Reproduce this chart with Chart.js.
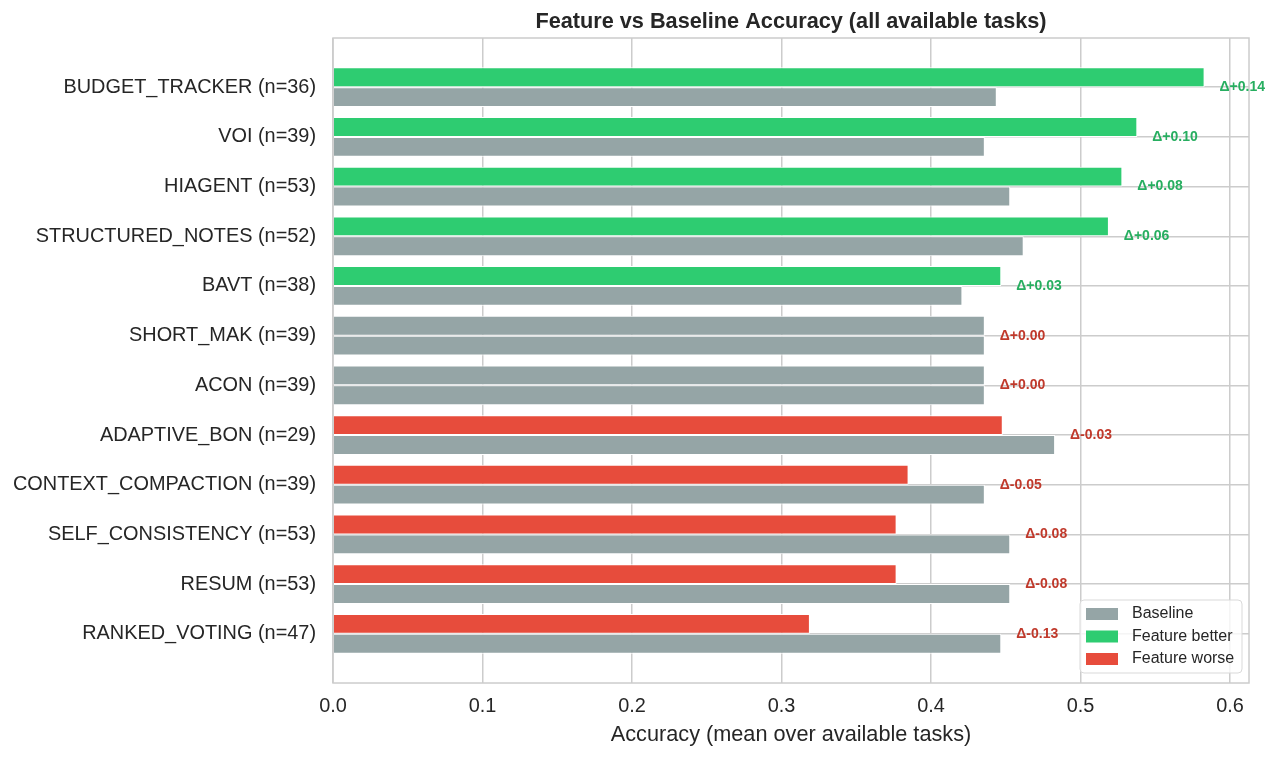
<!DOCTYPE html>
<html>
<head>
<meta charset="utf-8">
<script src="https://cdn.jsdelivr.net/npm/chart.js@4.4.1/dist/chart.umd.min.js"></script>
<style>
    body { margin: 0; background: #ffffff; }
    #wrap { width: 1282px; height: 759px; }
</style>
</head>
<body>
<div id="wrap"><canvas id="accChart"></canvas></div>
<script>
// data
const categories = [
    'BUDGET_TRACKER (n=36)', 'VOI (n=39)', 'HIAGENT (n=53)', 'STRUCTURED_NOTES (n=52)',
    'BAVT (n=38)', 'SHORT_MAK (n=39)', 'ACON (n=39)', 'ADAPTIVE_BON (n=29)',
    'CONTEXT_COMPACTION (n=39)', 'SELF_CONSISTENCY (n=53)', 'RESUM (n=53)', 'RANKED_VOTING (n=47)'
];
const featureAcc = [0.583, 0.538, 0.528, 0.519, 0.447, 0.436, 0.436, 0.448, 0.385, 0.377, 0.377, 0.319];
const baselineAcc = [0.444, 0.436, 0.453, 0.462, 0.421, 0.436, 0.436, 0.483, 0.436, 0.453, 0.453, 0.447];
const deltas = [0.14, 0.10, 0.08, 0.06, 0.03, 0.00, 0.00, -0.03, -0.05, -0.08, -0.08, -0.13];
const xTicks = [0, 0.1, 0.2, 0.3, 0.4, 0.5, 0.6];

const GREY = '#95a5a6';
const GREEN = '#2ecc71';
const RED = '#e74c3c';
const GRID = '#cccccc';
const TEXT = '#262626';
const FONT = '"Liberation Sans", Arial, sans-serif';

const featureColors = deltas.map(d => d > 0 ? GREEN : (d < 0 ? RED : GREY));

// title centred over the plot area
const titlePlugin = {
    id: 'plotTitle',
    afterDraw(chart) {
        const { ctx, chartArea } = chart;
        ctx.save();
        ctx.font = 'bold 21.7px ' + FONT;
        ctx.fillStyle = TEXT;
        ctx.textAlign = 'center';
        ctx.textBaseline = 'middle';
        ctx.fillText('Feature vs Baseline Accuracy (all available tasks)', (chartArea.left + chartArea.right) / 2, 22);
        ctx.restore();
    }
};

// box around the axes
const framePlugin = {
    id: 'frame',
    afterDatasetsDraw(chart) {
        const { ctx, chartArea } = chart;
        ctx.save();
        ctx.strokeStyle = GRID;
        ctx.lineWidth = 1.5;
        ctx.strokeRect(chartArea.left, chartArea.top, chartArea.right - chartArea.left, chartArea.bottom - chartArea.top);
        ctx.restore();
    }
};

// delta text right of the longer bar
const deltaPlugin = {
    id: 'deltas',
    afterDatasetsDraw(chart) {
        const { ctx } = chart;
        const xs = chart.scales.x, ys = chart.scales.y;
        ctx.save();
        ctx.font = 'bold 14px ' + FONT;
        ctx.textAlign = 'left';
        ctx.textBaseline = 'middle';
        deltas.forEach((d, i) => {
            const top = Math.max(featureAcc[i], baselineAcc[i]);
            ctx.fillStyle = d > 0 ? '#27ae60' : '#c0392b';
            const txt = 'Δ' + (d >= 0 ? '+' : '') + d.toFixed(2);
            ctx.fillText(txt, xs.getPixelForValue(top + 0.01), ys.getPixelForValue(i));
        });
        ctx.restore();
    }
};

// legend in the lower right corner of the axes
const legendPlugin = {
    id: 'cornerLegend',
    afterDraw(chart) {
        const { ctx, chartArea } = chart;
        const items = [['Baseline', GREY], ['Feature better', GREEN], ['Feature worse', RED]];
        const w = 162, h = 73;
        const left = chartArea.right - 169, top = chartArea.bottom - 83;
        ctx.save();
        ctx.beginPath();
        ctx.roundRect(left, top, w, h, 4);
        ctx.fillStyle = 'rgba(255,255,255,0.8)';
        ctx.fill();
        ctx.strokeStyle = '#d9d9d9';
        ctx.lineWidth = 1;
        ctx.stroke();
        ctx.font = '16px ' + FONT;
        ctx.textBaseline = 'middle';
        items.forEach(([name, col], k) => {
            const cy = top + 14 + k * 22.5;
            ctx.fillStyle = col;
            ctx.fillRect(left + 6, cy - 6, 32, 12);
            ctx.fillStyle = TEXT;
            ctx.fillText(name, left + 52, cy);
        });
        ctx.restore();
    }
};

new Chart(document.getElementById('accChart'), {
    type: 'bar',
    data: {
        datasets: [{
            label: 'Feature',
            data: featureAcc.map((v, i) => ({ x: v, y: i })),
            backgroundColor: featureColors,
            borderColor: '#ffffff',
            borderWidth: 1,
            categoryPercentage: 0.8,
            barPercentage: 1.0
        },
        {
            label: 'Baseline',
            data: baselineAcc.map((v, i) => ({ x: v, y: i })),
            backgroundColor: GREY,
            borderColor: '#ffffff',
            borderWidth: 1,
            categoryPercentage: 0.8,
            barPercentage: 1.0
        }]
    },
    options: {
        indexAxis: 'y',
        responsive: true,
        maintainAspectRatio: false,
        animation: false,
        layout: { padding: { top: 38, right: 33, left: 0, bottom: 0 } },
        plugins: {
            legend: { display: false },
            tooltip: { enabled: false },
            title: { display: false }
        },
        scales: {
            x: {
                type: 'linear',
                position: 'bottom',
                min: 0,
                max: 0.6127,
                afterBuildTicks: ax => { ax.ticks = xTicks.map(v => ({ value: v })); },
                ticks: {
                    callback: v => v.toFixed(1),
                    color: TEXT,
                    font: { family: FONT, size: 19.9 },
                    padding: 12,
                    maxRotation: 0
                },
                grid: { color: GRID, lineWidth: 1.5, drawTicks: false },
                border: { display: false },
                title: {
                    display: true,
                    text: 'Accuracy (mean over available tasks)',
                    color: TEXT,
                    font: { family: FONT, size: 21.7 },
                    padding: { top: 0, bottom: 11 }
                },
                afterFit: s => { s.height = 76; }
            },
            y: {
                type: 'linear',
                reverse: true,
                offset: false,
                min: -0.99,
                max: 11.99,
                afterBuildTicks: ax => { ax.ticks = categories.map((_, i) => ({ value: i })); },
                ticks: {
                    callback: v => categories[v],
                    color: TEXT,
                    font: { family: FONT, size: 19.9 },
                    padding: 17
                },
                grid: { color: GRID, lineWidth: 1.5, drawTicks: false, offset: false },
                border: { display: false },
                afterFit: s => { s.width = 333; }
            }
        }
    },
    plugins: [titlePlugin, framePlugin, deltaPlugin, legendPlugin]
});
</script>
</body>
</html>
